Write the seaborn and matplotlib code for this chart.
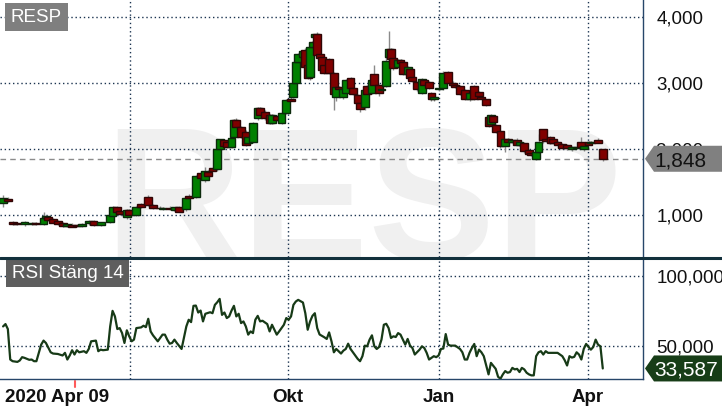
import numpy as np
import pandas as pd
import seaborn as sns
import matplotlib.pyplot as plt
from matplotlib.patches import Polygon
from matplotlib.lines import Line2D
import matplotlib.transforms as mtransforms

# Candles: trading-day index since 2020-04-09, OHLC in SEK
candle_day = [0, 2, 4, 6, 9, 12, 14, 17, 18, 19,
              21, 23, 25, 27, 29, 31, 33, 36, 38, 41,
              45, 46, 48, 49, 52, 53, 56, 58, 61, 63,
              66, 67, 70, 72, 74, 77, 78, 81, 83, 85,
              86, 88, 90, 91, 93, 94, 96, 97, 98, 100,
              102, 103, 105, 107, 108, 110, 112, 113, 115, 117,
              119, 121, 122, 123, 124, 126, 127, 128, 129, 130,
              131, 132, 133, 134, 135, 137, 139, 140, 141, 143,
              144, 146, 147, 149, 150, 152, 153, 155, 156, 158,
              159, 161, 162, 163, 164, 166, 167, 168, 170, 171,
              172, 174, 176, 177, 179, 180, 181, 183, 185, 187,
              189, 190, 192, 194, 196, 198, 200, 201, 203, 204,
              205, 206, 207, 209, 211, 212, 214, 216, 217, 219,
              221, 222, 224, 225, 227, 228, 230, 231, 233, 235,
              237, 239, 241, 243, 244, 246, 247, 250, 252]
candle_open = [1180, 1240, 890, 870, 860, 865, 870, 860, 945, 960,
               929, 905, 875, 830, 850, 845, 830, 870, 900, 850,
               895, 980, 1110, 1056, 960, 1071, 996, 1162, 1273, 1147,
               1100, 1085, 1095, 1075, 1112, 1081, 1290, 1274, 1627, 1526,
               1640, 1703, 1688, 1991, 2132, 2100, 2031, 2182, 2435, 2334,
               2258, 2082, 2107, 2460, 2612, 2561, 2511, 2384, 2490, 2384,
               2536, 2760, 2788, 3001, 3319, 3384, 3495, 3268, 3081, 3540,
               3697, 3733, 3430, 3394, 3268, 3354, 3142, 2788, 2935, 2788,
               2849, 3066, 2915, 2814, 2697, 2637, 2950, 2849, 3132, 2965,
               2890, 2950, 3384, 3506, 3369, 3243, 3340, 3309, 3132, 3208,
               3091, 3016, 2849, 3040, 3016, 2849, 2750, 2900, 2915, 3157,
               3000, 2970, 2950, 2889, 2748, 2950, 2864, 2780, 2748, 2486,
               2374, 2496, 2360, 2274, 2042, 2143, 2100, 2132, 2060, 2082,
               1981, 1930, 1840, 1956, 2294, 2140, 2173, 2150, 2107, 2072,
               2060, 2000, 2010, 2097, 2000, 2107, 2080, 2132, 1991]
candle_high = [1300, 1270, 910, 890, 900, 890, 885, 1046, 990, 975,
               945, 920, 890, 860, 870, 860, 870, 920, 915, 895,
               1030, 1140, 1130, 1070, 1090, 1090, 1140, 1180, 1300, 1160,
               1130, 1120, 1125, 1120, 1125, 1260, 1310, 1600, 1660, 1720,
               1680, 1720, 2010, 2150, 2150, 2120, 2170, 2450, 2460, 2350,
               2280, 2200, 2400, 2630, 2630, 2580, 2530, 2520, 2510, 2560,
               2750, 2780, 3010, 3320, 3450, 3500, 3520, 3290, 3560, 3630,
               3740, 3763, 3440, 3420, 3290, 3370, 3160, 2960, 2950, 2920,
               3060, 3080, 2930, 2830, 2710, 2900, 2960, 3060, 3268, 2980,
               2920, 3400, 3783, 3520, 3380, 3360, 3360, 3330, 3250, 3220,
               3100, 3030, 3070, 3050, 3030, 2860, 2800, 2920, 3170, 3170,
               3020, 2990, 2960, 2900, 2860, 2960, 2880, 2790, 2760, 2500,
               2520, 2510, 2380, 2290, 2150, 2160, 2150, 2160, 2120, 2100,
               2000, 1950, 1970, 2220, 2300, 2160, 2200, 2170, 2120, 2090,
               2070, 2040, 2030, 2180, 2050, 2120, 2110, 2170, 2000]
candle_low = [1110, 1190, 840, 850, 830, 840, 845, 840, 930, 910,
              870, 850, 820, 815, 810, 815, 815, 850, 835, 830,
              880, 970, 1040, 990, 930, 990, 980, 1100, 1140, 1080,
              1080, 1070, 1070, 1060, 1040, 1060, 1250, 1260, 1530, 1500,
              1560, 1660, 1670, 1970, 2030, 2010, 2010, 2150, 2320, 2170,
              2040, 2060, 2090, 2440, 2500, 2440, 2370, 2370, 2420, 2370,
              2520, 2720, 2770, 2990, 3300, 3370, 3230, 3050, 3040, 3520,
              3680, 3400, 3360, 3180, 3130, 3130, 2590, 2720, 2900, 2750,
              2830, 2900, 2810, 2650, 2560, 2590, 2800, 2830, 2950, 2800,
              2860, 2930, 3370, 3340, 3200, 3230, 3290, 3120, 3110, 3050,
              3010, 2880, 2830, 2950, 2900, 2720, 2730, 2880, 2890, 2990,
              2960, 2920, 2810, 2740, 2730, 2740, 2780, 2750, 2640, 2330,
              2360, 2400, 2240, 2010, 1950, 2080, 2080, 2050, 2040, 1940,
              1900, 1890, 1830, 1940, 2080, 2100, 2070, 2080, 2030, 1990,
              1980, 1970, 1990, 1990, 1960, 2050, 2060, 2080, 1810]
candle_close = [1260, 1205, 860, 865, 885, 875, 855, 945, 985, 920,
                880, 860, 830, 855, 820, 825, 860, 905, 845, 890,
                995, 1110, 1046, 1010, 1065, 996, 1122, 1112, 1147, 1097,
                1095, 1105, 1080, 1112, 1046, 1248, 1260, 1587, 1551, 1668,
                1590, 1668, 1996, 2142, 2041, 2030, 2157, 2435, 2334, 2182,
                2056, 2182, 2384, 2612, 2511, 2460, 2384, 2511, 2440, 2536,
                2738, 2730, 3001, 3309, 3435, 3485, 3243, 3066, 3536, 3612,
                3733, 3420, 3370, 3192, 3142, 3142, 2824, 2940, 2910, 2900,
                3041, 2915, 2829, 2688, 2597, 2889, 2829, 3041, 2965, 2839,
                2905, 3334, 3506, 3354, 3218, 3344, 3300, 3132, 3233, 3066,
                3026, 2900, 3051, 2960, 2915, 2748, 2790, 2915, 3152, 3001,
                2970, 2935, 2829, 2758, 2839, 2758, 2798, 2760, 2662, 2344,
                2511, 2410, 2259, 2042, 2143, 2095, 2132, 2057, 2100, 1971,
                1915, 1905, 1956, 2107, 2132, 2110, 2092, 2090, 2057, 2006,
                2010, 2020, 2025, 2021, 2040, 2060, 2097, 2092, 1848]

# RSI (close, 14)
rsi_day = [0, 1, 2, 3, 4, 6, 7, 8, 9, 11,
           12, 13, 14, 16, 17, 18, 20, 21, 23, 25,
           26, 27, 28, 29, 30, 31, 32, 34, 35, 36,
           37, 39, 40, 41, 42, 44, 45, 46, 47, 48,
           49, 50, 51, 52, 53, 54, 55, 56, 58, 59,
           60, 61, 62, 63, 65, 66, 67, 68, 69, 70,
           71, 72, 73, 75, 77, 78, 79, 80, 81, 82,
           83, 84, 85, 87, 88, 89, 90, 91, 92, 93,
           94, 95, 96, 97, 98, 99, 100, 101, 102, 103,
           104, 105, 106, 107, 108, 109, 111, 112, 113, 114,
           115, 116, 118, 119, 120, 121, 122, 123, 124, 126,
           127, 128, 129, 130, 131, 132, 133, 135, 136, 137,
           138, 139, 140, 141, 142, 143, 144, 145, 146, 147,
           148, 149, 150, 151, 152, 153, 154, 155, 156, 157,
           158, 159, 160, 161, 162, 163, 164, 165, 166, 167,
           168, 169, 170, 171, 172, 173, 175, 176, 177, 178,
           179, 181, 182, 183, 184, 185, 186, 187, 188, 190,
           191, 192, 193, 194, 195, 196, 197, 198, 199, 200,
           201, 202, 204, 205, 207, 208, 209, 210, 211, 212,
           213, 214, 215, 216, 217, 218, 219, 220, 221, 222,
           223, 224, 225, 226, 227, 228, 229, 230, 233, 235,
           236, 237, 238, 239, 240, 241, 242, 243, 244, 245,
           246, 247, 248, 249, 250, 251, 252]
rsi_value = [63.8, 65.5, 61.9, 40.0, 38.8, 38.3, 39.3, 41.7, 41.2, 39.8,
             40.0, 38.8, 38.8, 50.7, 53.6, 51.9, 45.2, 44.3, 44.0, 42.9,
             44.8, 40.0, 42.9, 46.7, 43.6, 46.7, 45.2, 46.0, 44.8, 47.6,
             53.1, 53.6, 46.0, 47.1, 46.7, 47.1, 63.8, 75.0, 71.0, 61.9,
             62.6, 59.0, 51.9, 61.0, 56.7, 53.1, 54.3, 62.6, 63.1, 64.3,
             63.3, 69.3, 60.2, 57.4, 53.1, 55.5, 57.9, 57.9, 54.3, 51.4,
             51.9, 54.3, 51.9, 47.6, 63.8, 68.6, 66.9, 78.6, 78.8, 73.8,
             75.2, 67.4, 72.9, 74.0, 73.3, 79.3, 81.2, 83.6, 72.1, 73.8,
             69.8, 71.0, 75.2, 78.6, 71.0, 72.9, 66.2, 67.4, 63.8, 57.9,
             60.2, 59.0, 68.6, 71.4, 67.4, 67.9, 65.5, 60.2, 65.0, 61.4,
             57.9, 60.2, 65.0, 69.8, 68.6, 71.0, 79.3, 81.7, 82.9, 81.0,
             73.3, 61.4, 67.4, 71.4, 73.3, 62.6, 58.0, 56.0, 54.8, 59.5,
             53.1, 45.2, 47.6, 46.0, 44.3, 46.4, 47.6, 51.4, 47.6, 45.2,
             42.9, 40.5, 38.8, 42.4, 50.0, 49.5, 54.3, 57.4, 49.5, 47.6,
             49.0, 54.3, 65.0, 65.7, 62.6, 55.5, 56.7, 56.2, 59.0, 57.9,
             54.3, 50.7, 54.8, 50.0, 48.3, 43.6, 47.1, 49.5, 48.3, 44.8,
             40.0, 42.4, 41.7, 42.9, 47.6, 47.9, 58.3, 50.7, 50.0, 50.0,
             48.8, 47.6, 45.2, 40.0, 40.0, 44.8, 48.3, 51.2, 42.4, 47.1,
             45.2, 42.4, 29.3, 37.6, 33.3, 27.6, 26.2, 29.3, 31.7, 30.5,
             31.0, 34.0, 32.9, 33.3, 31.0, 34.0, 32.9, 30.5, 29.3, 28.6,
             28.6, 42.4, 45.2, 46.0, 43.6, 46.0, 44.8, 44.8, 44.8, 42.4,
             39.5, 35.7, 42.4, 41.4, 41.9, 45.2, 43.6, 40.0, 47.6, 51.2,
             49.0, 47.1, 49.0, 54.3, 50.7, 49.5, 33.587]

# month starts as trading-day index (Jul, Okt, Jan, Apr)
month_day = [53.4, 119.7, 183.2, 245.8]
month_labels = ["", "Okt", "Jan", "Apr"]
start_label = "2020 Apr 09"
marker_day = 30.3

price_ticks = [1000, 2000, 3000, 4000]
price_tick_labels = ["1,000", "2,000", "3,000", "4,000"]
rsi_ticks = [50, 100]
rsi_tick_labels = ["50,000", "100,000"]

last_price = 1848
last_price_label = "1,848"
last_rsi = 33.587
last_rsi_label = "33,587"

ticker = "RESP"
rsi_title = "RSI Stäng 14"

sns.set_style("white")
plt.rcParams['font.family'] = ['Liberation Sans', 'DejaVu Sans']

W, H = 722, 411
fig = plt.figure(figsize=(W / 100, H / 100), dpi=100)
ax1 = fig.add_axes([0, 1 - 257 / H, 643 / W, 257 / H])
ax2 = fig.add_axes([0, 1 - 379 / H, 643 / W, 121 / H])

navy = "#27466a"
grid_kw = dict(color="#1b3350", linestyle=(0, (1, 2)), linewidth=1)

df = pd.DataFrame({"day": candle_day, "open": candle_open, "high": candle_high,
                   "low": candle_low, "close": candle_close})
up = df["close"] >= df["open"]
body_low = np.minimum(df["open"], df["close"])
body_h = np.maximum((df["close"] - df["open"]).abs(), 10)

# --- price panel ---
ax1.text(0.565, -0.01, ticker, transform=ax1.transAxes, ha="center", va="baseline",
         fontsize=137, fontweight="bold", color="#f0f0f0", zorder=0, clip_on=True)
ax1.vlines(df["day"], df["low"], df["high"], color="#8a8a8a", linewidth=1, zorder=2)
ax1.bar(df["day"], body_h, bottom=body_low, width=3.3,
        color=np.where(up, "#008000", "#800000"),
        edgecolor=np.where(up, "#0b2a0b", "#2e0606"), linewidth=1, zorder=3)
ax1.axhline(last_price, color="#8c8c8c", linestyle=(0, (4, 3)), linewidth=1, zorder=1)

ax1.set_xlim(-1.3, 268.9)
ax1.set_ylim(360, 4253)
ax1.set_xticks(month_day)
ax1.set_yticks(price_ticks)
ax1.set_yticklabels(price_tick_labels)
ax1.yaxis.tick_right()
ax1.tick_params(axis="x", bottom=False, labelbottom=False)
ax1.tick_params(axis="y", length=0, pad=9.5, labelsize=13.5, colors="#111111")
ax1.grid(True, **grid_kw)
ax1.set_axisbelow(True)
for s in ["left", "top", "bottom"]:
    ax1.spines[s].set_visible(False)
ax1.spines["right"].set_color(navy)
ax1.spines["right"].set_linewidth(1)
ax1.text(11 / 643, 1 - 17 / 257, ticker, transform=ax1.transAxes, fontsize=13.5,
         color="white", va="center", ha="left", zorder=6,
         bbox=dict(boxstyle="square,pad=0.3", fc="#7f7f7f", ec="none"))

# --- RSI panel ---
sns.lineplot(x=rsi_day, y=rsi_value, ax=ax2, color="#173a17", linewidth=1.6, zorder=3)
ax2.set_xlim(-1.3, 268.9)
ax2.set_ylim(26, 113)
ax2.set_xticks(month_day)
ax2.set_xticklabels(month_labels, fontweight="bold")
ax2.set_yticks(rsi_ticks)
ax2.set_yticklabels(rsi_tick_labels)
ax2.yaxis.tick_right()
ax2.tick_params(axis="x", direction="out", length=5, width=1, color=navy,
                labelsize=13.5, pad=2, colors="#111111")
ax2.tick_params(axis="x", color=navy)
ax2.tick_params(axis="y", length=0, pad=9.5, labelsize=13.5, colors="#111111")
ax2.grid(True, **grid_kw)
ax2.set_axisbelow(True)
ax2.set_xlabel("")
ax2.set_ylabel("")
ax2.spines["left"].set_visible(False)
ax2.spines["top"].set_visible(False)
for s in ["right", "bottom"]:
    ax2.spines[s].set_color(navy)
    ax2.spines[s].set_linewidth(1)
ax2.text(12 / 643, 1 - 15 / 121, rsi_title, transform=ax2.transAxes, fontsize=13.5,
         color="white", va="center", ha="left", zorder=6,
         bbox=dict(boxstyle="square,pad=0.3", fc="#5e5e5e", ec="none"))

blend = mtransforms.blended_transform_factory(ax2.transData, ax2.transAxes)
ax2.plot([marker_day, marker_day], [-0.015, -0.065], transform=blend,
         color="#ff5a5a", linewidth=1.5, clip_on=False)
ax2.text(0.008, -0.155, start_label, transform=ax2.transAxes, fontsize=13.5,
         fontweight="bold", color="#111111", ha="left", va="center")

# panel separator
fig.add_artist(Line2D([0, 1], [1 - 258 / H] * 2, transform=fig.transFigure,
                      color="#12303c", linewidth=2.2, zorder=8))


def price_tag(ax, value, text, face, color):
    y = ax.transData.transform((0, value))[1] / fig.bbox.height
    hh = 13 / H
    x_tip, x_sh = 645 / W, 654 / W
    fig.add_artist(Polygon([(x_tip, y), (x_sh, y + hh), (1.01, y + hh), (1.01, y - hh), (x_sh, y - hh)],
                           closed=True, transform=fig.transFigure, fc=face, ec="none", zorder=10))
    fig.text(654 / W, y, text, ha="left", va="center_baseline", fontsize=15, color=color, zorder=11)


price_tag(ax1, last_price, last_price_label, "#808080", "#111111")
price_tag(ax2, last_rsi, last_rsi_label, "#173d17", "white")

fig.savefig("out.png", dpi=100)
